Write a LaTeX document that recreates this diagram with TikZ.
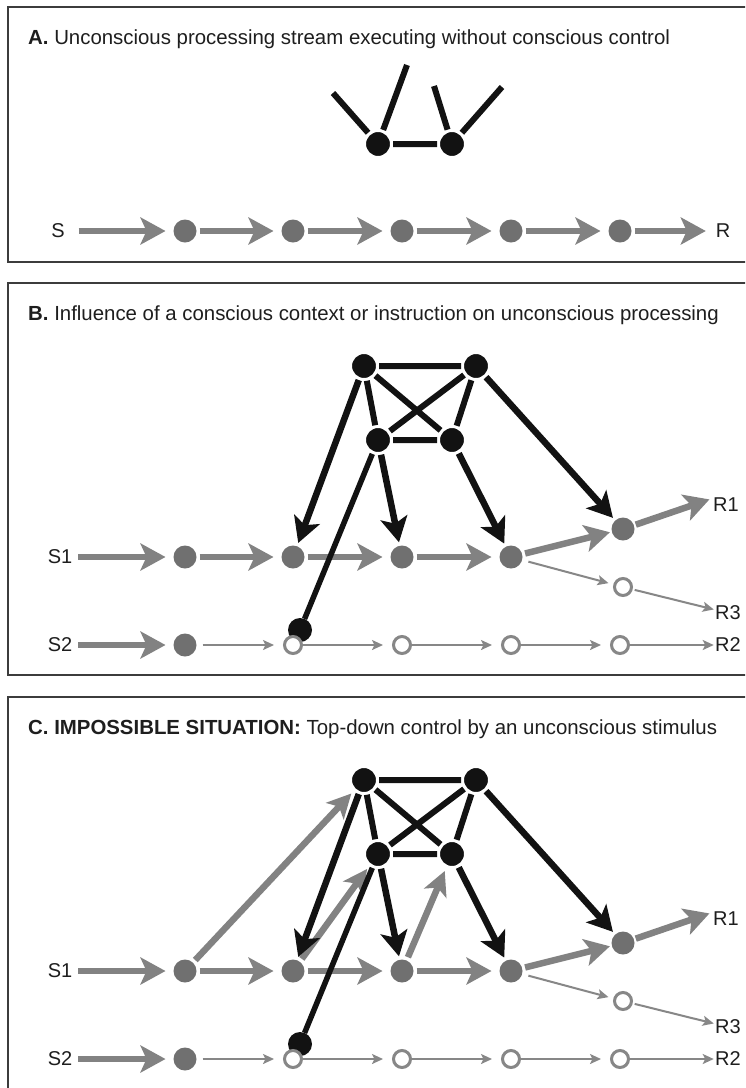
\documentclass[tikz,border=0pt]{standalone}
\usepackage{fontspec}
\setmainfont{Liberation Sans}
\usetikzlibrary{arrows.meta}
\definecolor{ngray}{RGB}{112,112,112}
\definecolor{agray}{RGB}{130,130,130}
\definecolor{ogray}{RGB}{135,135,135}
\definecolor{blk}{RGB}{18,18,18}
\definecolor{boxc}{RGB}{60,60,60}
\definecolor{txt}{RGB}{30,30,30}
\tikzset{
 gnode/.style={circle, fill=ngray, minimum size=23pt, inner sep=0pt, outer sep=0pt},
 onode/.style={circle, fill=white, draw=ogray, line width=3pt, minimum size=17pt, inner sep=0pt, outer sep=1.5pt},
 bnode/.style={circle, fill=blk, draw=white, line width=3pt, minimum size=27pt, inner sep=0pt, outer sep=1.5pt},
 blobnode/.style={circle, fill=blk, minimum size=24pt, inner sep=0pt, outer sep=0pt},
 lbl/.style={font=\fontsize{20}{22}\selectfont, text=txt, inner sep=0pt, outer sep=0pt},
 ttl/.style={font=\fontsize{20.4}{24}\selectfont, text=txt, inner sep=0pt, anchor=base west},
 bigarrow/.style={-{Stealth[length=25pt,width=27pt,inset=6pt]}, line width=6.5pt, draw=agray, shorten <=3pt, shorten >=8pt},
 thinarrow/.style={-{Stealth[length=11pt,width=10pt,inset=2.5pt]}, line width=2pt, draw=ogray},
 blkedge/.style={line width=6pt, draw=blk},
 blkarrow/.style={-{Stealth[length=25pt,width=27pt,inset=6pt]}, line width=6.5pt, draw=blk, shorten >=3.5pt},
 uparrow/.style={-{Stealth[length=24pt,width=24pt,inset=6pt]}, line width=6.5pt, draw=agray, shorten <=3.5pt, shorten >=3.5pt},
 boxline/.style={line width=2pt, draw=boxc},
}
% #1 prefix, #2 vertical offset, #3 title, #4 extra arrows
\newcommand\bcpanel[4]{%
\begin{scope}[yshift=-#2pt]
 \draw[boxline] (8,283) rectangle (760,675);
 \node[ttl] (#1title) at (28,320) {#3};
 \node[bnode] (#1TL) at (364,366) {};
 \node[bnode] (#1TR) at (476,366) {};
 \node[bnode] (#1BL) at (378,440) {};
 \node[bnode] (#1BR) at (452,440) {};
 \node[lbl] (#1S1) at (60,557) {S1};
 \node[gnode] (#1n1) at (185,557) {};
 \node[gnode] (#1n2) at (293,557) {};
 \node[gnode] (#1n3) at (402,557) {};
 \node[gnode] (#1n4) at (511,557) {};
 \node[gnode] (#1r1) at (623,529) {};
 \node[onode] (#1r3) at (623,587) {};
 \node[lbl] (#1R1) at (726,505) {R1};
 \node[lbl] (#1R3) at (728,613) {R3};
 \node[lbl] (#1S2) at (60,645) {S2};
 \node[gnode] (#1m1) at (185,645) {};
 \node[blobnode] (#1blob) at (300,630) {};
 \node[onode] (#1m2) at (293,645) {};
 \node[onode] (#1m3) at (402,645) {};
 \node[onode] (#1m4) at (511,645) {};
 \node[onode] (#1m5) at (620,645) {};
 \node[lbl] (#1R2) at (728,645) {R2};
 \draw[blkedge] (#1TL) -- (#1TR) (#1BL) -- (#1BR) (#1TL) -- (#1BL) (#1TR) -- (#1BR)
   (#1TL) -- (#1BR) (#1TR) -- (#1BL);
 \draw[bigarrow, shorten <=6pt] (#1S1) -- (#1n1);
 \draw[bigarrow] (#1n1) -- (#1n2);
 \draw[bigarrow] (#1n2) -- (#1n3);
 \draw[bigarrow] (#1n3) -- (#1n4);
 \draw[bigarrow, shorten >=2pt] (#1n4) -- (#1r1);
 \draw[bigarrow, shorten <=2pt, shorten >=4pt] (#1r1) -- (#1R1.north west);
 \draw[thinarrow, shorten <=6.5pt, shorten >=5pt] (#1n4) -- (#1r3);
 \draw[thinarrow, shorten <=2pt, shorten >=1.5pt] (#1r3) -- (#1R3);
 \draw[bigarrow, shorten <=6pt] (#1S2) -- (#1m1);
 \draw[thinarrow, shorten <=6pt, shorten >=9pt] (#1m1) -- (#1m2);
 \draw[thinarrow, shorten >=9pt] (#1m2) -- (#1m3);
 \draw[thinarrow, shorten >=9pt] (#1m3) -- (#1m4);
 \draw[thinarrow, shorten >=9pt] (#1m4) -- (#1m5);
 \draw[thinarrow, shorten >=1.5pt] (#1m5) -- (#1R2);
 #4
 \draw[blkarrow] (#1TL) -- (#1n2);
 \draw[blkarrow] (#1BL) -- (#1n3);
 \draw[blkarrow] (#1BR) -- (#1n4);
 \draw[blkarrow] (#1TR) -- (#1r1);
 \draw[blkedge, line width=5.5pt] (#1BL) -- (#1blob);
\end{scope}}
\begin{document}
\begin{tikzpicture}[x=1pt,y=-1pt]
\useasboundingbox (0,0) rectangle (745,1088);
\clip (0,0) rectangle (745,1088);
\fill[white] (0,0) rectangle (745,1088);
% ---------------- Panel A
\draw[boxline] (8,7) rectangle (760,262);
\node[ttl] (tA) at (28,44) {\textbf{A.} Unconscious processing stream executing without conscious control};
\node[bnode] (aL) at (378,144) {};
\node[bnode] (aR) at (452,144) {};
\coordinate (aL1) at (333,93);
\coordinate (aL2) at (407,65);
\coordinate (aR1) at (434,86);
\coordinate (aR2) at (502,87);
\draw[blkedge] (aL) -- (aR) (aL) -- (aL1) (aL) -- (aL2) (aR) -- (aR1) (aR) -- (aR2);
\node[lbl] (aS) at (58,231) {S};
\node[gnode] (a1) at (185,231) {};
\node[gnode] (a2) at (293,231) {};
\node[gnode] (a3) at (402,231) {};
\node[gnode] (a4) at (511,231) {};
\node[gnode] (a5) at (620,231) {};
\node[lbl] (aRR) at (723,231) {R};
\draw[bigarrow, shorten <=14pt] (aS) -- (a1);
\draw[bigarrow] (a1) -- (a2);
\draw[bigarrow] (a2) -- (a3);
\draw[bigarrow] (a3) -- (a4);
\draw[bigarrow] (a4) -- (a5);
\draw[bigarrow, shorten >=10pt] (a5) -- (aRR);
% ---------------- Panel B
\bcpanel{b}{0}{\textbf{B.} Influence of a conscious context or instruction on unconscious processing}{}
% ---------------- Panel C
\bcpanel{c}{414}{\textbf{C. IMPOSSIBLE SITUATION:} Top-down control by an unconscious stimulus}{%
 \draw[uparrow] (cn1) -- (cTL);
 \draw[uparrow] (cn2) -- (cBL);
 \draw[uparrow] (cn3) -- (cBR);}
\end{tikzpicture}
\end{document}
